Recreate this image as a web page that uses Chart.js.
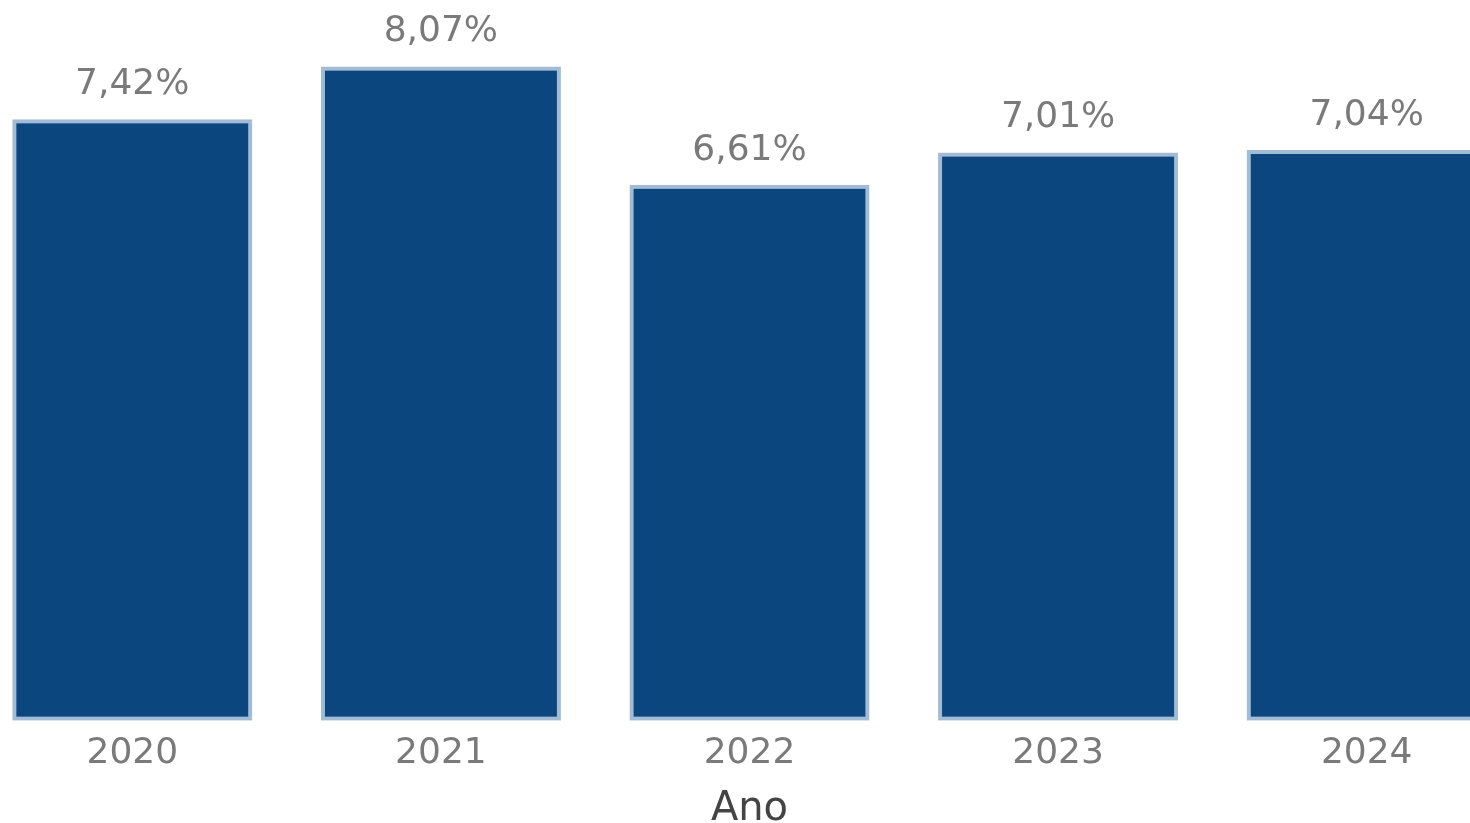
<!DOCTYPE html>
<html>
<head>
<meta charset="utf-8">
<script src="https://cdn.jsdelivr.net/npm/chart.js@4.4.1/dist/chart.umd.min.js"></script>
<style>
  html, body { margin: 0; padding: 0; background: #fff; overflow: hidden; }
  body { width: 1470px; height: 823px; position: relative; }
  #chart { position: absolute; left: -22px; top: 0; }
</style>
</head>
<body>
<canvas id="chart" width="1543" height="834"></canvas>
<script>
// data
const years = ['2020', '2021', '2022', '2023', '2024'];
const rates = [7.42, 8.07, 6.61, 7.01, 7.04];

const fmtPct = v => v.toFixed(2).replace('.', ',') + '%';

// value labels above each bar
const barLabels = {
    id: 'barLabels',
    afterDatasetsDraw(chart) {
        const ctx = chart.ctx;
        const meta = chart.getDatasetMeta(0);
        ctx.save();
        ctx.font = '36px "DejaVu Sans"';
        ctx.fillStyle = '#7a7a7a';
        ctx.textAlign = 'center';
        ctx.textBaseline = 'alphabetic';
        meta.data.forEach((bar, i) => {
            ctx.fillText(fmtPct(rates[i]), bar.x, bar.y - 25);
        });
        ctx.restore();
    }
};

new Chart(document.getElementById('chart').getContext('2d'), {
    type: 'bar',
    data: {
        labels: years,
        datasets: [{
            data: rates,
            backgroundColor: '#0b467e',
            borderColor: '#a3bcd5',
            borderWidth: 4,
            borderSkipped: false,
            categoryPercentage: 1,
            barPercentage: 0.778
        }]
    },
    options: {
        responsive: false,
        animation: false,
        layout: { padding: 0 },
        plugins: {
            legend: { display: false },
            tooltip: { enabled: false }
        },
        scales: {
            y: {
                display: false,
                min: 0,
                max: 8.89
            },
            x: {
                grid: { display: false, drawTicks: false },
                border: { display: false },
                ticks: {
                    padding: 11,
                    color: '#7a7a7a',
                    font: { family: 'DejaVu Sans', size: 36 }
                },
                title: {
                    display: true,
                    text: 'Ano',
                    color: '#444',
                    font: { family: 'DejaVu Sans', size: 40 },
                    padding: { top: 0, bottom: 0 }
                }
            }
        }
    },
    plugins: [barLabels]
});
</script>
</body>
</html>
